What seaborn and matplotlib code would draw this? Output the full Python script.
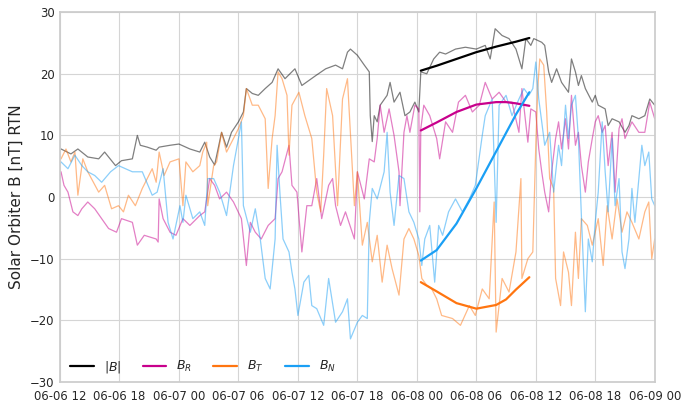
import numpy as np
import pandas as pd
import matplotlib
matplotlib.use("Agg")
import matplotlib.pyplot as plt
import matplotlib.dates as mdates
import seaborn as sns

# ---------------- data (hours after 2022-06-06 12:00, values in nT) ----------------
t_B = [0.1, 1.1, 1.8, 2.8, 3.9, 4.5, 5.6, 6.2, 7.3, 7.8, 8.1, 8.8, 9.7,
       10.0, 11.1, 12.0, 13.1, 14.1, 14.6, 15.1, 15.6, 16.3, 16.8, 17.3, 18.0, 18.5, 18.8, 19.4,
       20.0, 20.7, 21.4, 22.0, 22.7, 23.7, 24.4, 25.1, 25.8, 26.8, 27.8, 28.5, 29.0,
       29.3, 30.0, 30.7, 31.2, 31.3, 31.5, 31.7, 32.0, 32.3, 33.0, 33.3, 33.7, 34.3, 34.8, 35.3, 35.8,
       36.2, 36.4, 37.0, 37.7, 38.3,
       38.9, 39.9, 40.9, 42.0, 42.9, 43.4, 43.9, 44.6, 45.3, 46.0, 46.6, 47.0, 47.5, 47.8,
       48.6, 48.9, 49.3, 49.6, 50.1, 50.6, 51.3, 51.6, 52.0, 52.3, 52.6, 53.0, 53.7, 54.0, 54.3,
       55.0, 55.3, 55.7, 56.4, 57.0, 57.4, 57.7, 58.4, 59.0, 59.5, 60.0]
v_B = [7.8, 7.0, 7.8, 6.5, 6.2, 7.3, 5.1, 5.9, 6.2, 10.0, 8.4, 8.1, 7.6,
       8.1, 8.4, 8.6, 7.8, 7.3, 8.9, 6.5, 5.2, 10.5, 8.1, 10.5, 12.2, 13.8, 17.6, 16.8,
       16.5, 17.6, 18.6, 20.8, 19.2, 20.8, 18.1, 18.9, 19.7, 20.8, 21.4, 20.8, 23.5,
       24.0, 23.0, 21.4, 20.3, 13.2, 9.0, 13.2, 12.2, 14.9, 16.5, 18.6, 15.4, 17.0, 13.2, 13.8, 15.4,
       13.8, 20.3, 20.0, 22.4, 23.5,
       23.2, 24.0, 24.3, 24.0, 24.6, 22.4, 27.3, 26.2, 25.7, 24.0, 20.8, 25.7, 24.6, 25.7,
       25.1, 24.6, 20.3, 18.6, 20.8, 18.6, 17.0, 22.4, 20.3, 18.1, 19.7, 17.6, 15.4, 16.5, 14.9,
       14.3, 11.6, 12.7, 12.2, 10.5, 11.6, 13.2, 12.7, 13.2, 15.9, 14.9]

t_BR = [0.1, 0.4, 0.8, 1.3, 1.8, 2.2, 2.8, 3.5, 4.2, 4.9, 5.7, 6.2, 7.3, 7.8, 8.5, 9.7,
        9.9, 10.0, 10.4, 11.1, 11.7, 12.4, 13.1, 14.1, 14.6, 15.1, 15.6, 16.1, 16.8, 17.5, 18.3, 18.8, 19.2,
        19.7, 20.3, 21.0, 21.7, 22.0, 22.4, 23.1, 23.4, 23.9, 24.4, 24.9, 25.4, 25.9, 26.4, 27.1, 27.5,
        27.8, 28.3, 28.8,
        29.7, 30.0, 30.7, 31.2, 31.7, 32.0, 32.3, 32.7, 33.2, 33.7, 34.2, 34.3, 34.7, 35.0, 35.3, 35.8,
        36.2, 36.3, 36.4, 36.7, 37.3, 38.0, 38.3,
        38.9, 39.6, 40.2, 40.9, 41.6, 42.3, 42.9, 43.6, 44.3, 45.0, 45.6, 46.3, 46.6, 47.2, 47.5, 48.0,
        48.3, 48.6, 48.9, 49.3, 49.6, 50.0, 50.3, 50.6, 51.0, 51.3, 51.6, 52.0, 52.3, 52.6, 53.0, 53.3,
        53.7, 54.0, 54.3, 54.7, 55.0, 55.3, 55.7, 56.0, 56.4, 56.7, 57.0, 57.7, 58.4, 59.0, 59.5, 60.0]
v_BR = [4.1, 1.9, 0.8, -2.4, -3.0, -1.9, -0.8, -1.9, -3.5, -5.1, -5.7, -3.5, -4.1, -7.8, -6.2, -6.8,
        -7.3, -0.3, -3.5, -5.7, -6.2, -3.5, -4.6, -3.0, -2.4, 3.0, 1.9, -0.3, 0.8, -0.8, -3.5, -11.1, -4.1,
        -5.7, -6.8, -4.6, -3.5, 3.0, 4.1, 8.4, 1.9, 0.8, -8.9, -1.4, -1.4, 3.0, -3.5, 1.9, 3.0,
        -1.4, -4.6, -2.4,
        -6.8, 4.1, -0.3, 6.2, 5.7, 9.5, 14.9, 10.5, 14.3, 10.0, 4.1, -1.4, 10.5, 13.2, 10.5, 14.9,
        14.3, -2.4, 11.1, 14.9, 13.2, 9.5, 6.2,
        12.2, 10.5, 15.4, 16.5, 13.8, 14.9, 18.6, 15.9, 17.0, 15.4, 15.4, 10.5, 17.6, 8.9, 14.3, 13.8,
        7.8, 4.1, 0.8, -2.4, 4.1, 9.5, 12.2, 7.8, 12.7, 7.8, 16.5, 8.4, 10.5, 5.1, 0.8, 5.7,
        9.5, 12.2, 13.2, 10.5, 11.6, 5.1, 10.5, 0.8, 11.1, 12.7, 9.5, 12.2, 10.5, 10.5, 15.4, 12.7]

t_BT = [0.1, 0.6, 1.1, 1.5, 1.8, 2.3, 2.8, 3.9, 4.5, 5.2, 5.9, 6.4, 6.9, 7.6, 8.3, 9.3, 9.7,
        10.0, 10.5, 11.1, 12.0, 12.4, 12.7, 13.4, 14.1, 14.4, 14.8, 14.9, 15.5, 15.8, 16.3, 16.8, 17.5,
        18.0, 18.5, 18.8, 19.4,
        20.0, 20.7, 21.0, 21.4, 21.7, 22.0, 22.4, 22.9, 23.1, 23.4, 24.1, 24.7, 25.4, 25.9, 26.3, 26.6,
        26.9, 27.5, 28.0, 28.5, 29.0,
        29.2, 29.7, 30.0, 30.5, 31.0, 31.5, 32.0, 32.5, 33.0, 33.5, 34.2, 34.7, 35.2, 35.7, 36.2, 36.5,
        37.0, 37.5, 38.0, 38.5,
        39.6, 40.4, 41.3, 41.9, 42.6, 43.3, 43.8, 44.0, 44.6, 45.3, 46.0, 46.5, 46.6, 47.2, 47.7, 48.0, 48.2,
        48.4, 48.8, 49.1, 49.4, 49.8, 50.0, 50.5, 50.8, 51.3, 51.6, 52.0, 52.3, 52.6, 53.2, 53.7, 54.3,
        54.8, 55.2, 55.7, 56.2, 56.7, 57.2, 57.7, 58.4, 59.0, 59.4, 59.7, 60.0]
v_BT = [6.2, 7.8, 5.7, 7.3, 0.3, 6.2, 4.1, 0.8, 1.9, -1.9, -1.4, -2.4, 0.3, -1.4, 1.4, 4.6, 2.4,
        7.3, 3.5, 5.7, 6.2, -1.4, 5.7, 4.1, 5.1, 7.3, 8.9, -1.4, 5.1, 5.7, 10.5, 7.3, 9.5,
        11.1, 13.2, 17.6, 14.9,
        14.9, 12.7, 1.4, 9.5, 13.2, 20.3, 19.2, 16.5, 6.8, 14.9, 17.0, 13.2, 9.5, 0.8, -2.4, 6.8,
        17.6, 13.2, -1.4, 15.9, 19.2,
        13.2, -1.4, 4.1, -7.8, -4.1, -10.5, -6.2, -13.8, -7.8, -11.6, -15.9, -6.8, -5.1, -6.8, -9.5, -13.2,
        -14.3, -14.9, -16.5, -19.2,
        -19.7, -20.8, -17.6, -19.2, -14.9, -16.5, -0.8, -21.9, -13.2, -15.4, -8.9, 3.0, -13.2, -10.0, -8.9, 8.4, 17.6,
        22.4, 21.4, 13.8, 3.0, 1.4, -13.2, -17.6, -8.9, -12.2, -17.6, -5.7, -13.2, -3.5, -4.6, -7.8, -3.5,
        -11.1, -1.4, -6.8, -0.3, -5.7, -2.4, -4.1, -6.8, -2.4, -0.8, -10.0, -6.8]

t_BN = [0.1, 0.8, 1.5, 2.2, 2.8, 3.5, 4.2, 5.1, 5.9, 6.6, 7.3, 8.3, 9.3, 9.8,
        10.4, 10.9, 11.4, 12.1, 12.4, 12.7, 13.4, 14.1, 14.6, 14.9, 15.5, 16.1, 16.8, 17.5, 18.0, 18.3,
        18.5, 19.2,
        19.7, 20.2, 20.7, 21.2, 21.7, 21.9, 22.2, 22.5, 23.1, 23.4, 23.7, 24.0, 24.6, 25.1, 25.4, 25.9,
        26.6, 27.1, 27.8, 28.5, 29.0,
        29.3, 30.0, 30.5, 31.0, 31.2, 31.5, 32.0, 32.7, 33.0, 33.3, 33.7, 34.2, 34.7, 35.2, 35.7, 36.2,
        36.5, 36.8, 37.3, 37.8, 38.2,
        38.6, 39.2, 39.9, 40.6, 41.3, 41.9, 42.6, 42.9, 43.6, 44.0, 44.3, 45.0, 45.6, 46.3, 46.8, 47.3,
        47.7, 48.0,
        48.3, 48.6, 48.9, 49.4, 49.8, 50.3, 50.6, 51.0, 51.3, 51.6, 52.0, 52.3, 52.6, 53.0, 53.3, 53.7,
        54.0, 54.3, 54.7, 55.0, 55.3, 55.7, 56.0, 56.4, 56.7, 57.0, 57.4, 57.7, 58.0, 58.4, 58.7, 59.0,
        59.4, 59.7, 60.0]
v_BN = [5.7, 4.6, 6.8, 5.1, 4.1, 3.5, 2.4, 4.1, 5.1, 4.6, 4.1, 4.1, 0.3, 0.8,
        4.6, -4.1, -6.8, -1.4, -4.1, 0.3, -3.5, -2.4, -4.6, 3.0, 3.0, 0.8, -3.0, 5.1, 9.5, 12.2,
        -1.4, -5.7,
        -1.9, -6.8, -13.2, -14.9, -6.8, 8.4, 0.3, -6.8, -8.9, -12.2, -14.9, -19.2, -13.8, -12.7, -17.6, -18.1,
        -20.8, -13.2, -20.3, -18.6, -16.5,
        -23.0, -20.3, -19.2, -19.7, -4.1, 1.4, -0.3, 4.1, 10.5, 0.8, -4.6, 3.5, 3.0, -2.4, -4.1, -6.8,
        -11.1, -6.8, -4.6, -13.8, -4.6,
        -6.2, -2.4, -0.3, -2.4, -0.3, 1.9, 10.0, 13.2, 15.9, -4.1, 14.9, 16.5, 13.2, 15.9, 17.6, 16.5,
        17.6, 21.9,
        15.9, 12.2, 8.4, 10.5, 0.8, 8.4, 5.1, 14.9, 9.5, 14.9, 16.5, 9.5, -3.0, -18.6, -6.8, -10.5,
        -4.1, 0.8, 12.2, 4.1, -2.4, 9.5, -1.4, 3.0, -8.9, -11.6, -6.8, 1.4, -4.1, 3.0, 8.4, 5.1,
        7.3, -0.3, -1.4]

# smooth fitted curves (same hour axis)
t_fit = [36.4, 38.0, 40.0, 42.0, 44.0, 45.0, 46.0, 47.35]
fit_B = [20.5, 21.3, 22.4, 23.5, 24.4, 24.8, 25.2, 25.8]
fit_BR = [10.8, 12.1, 13.8, 15.0, 15.4, 15.4, 15.2, 14.8]
fit_BT = [-13.8, -15.3, -17.2, -18.1, -17.5, -16.6, -15.0, -13.0]
fit_BN = [-10.3, -8.6, -4.3, 1.4, 7.4, 10.4, 13.4, 17.0]

labels = ["$|B|$", "$B_R$", "$B_T$", "$B_N$"]
colors = ["#000000", "#c8008c", "#ff7510", "#1a9ff5"]
xtick_hours = list(range(0, 61, 6))

# ---------------- plotting ----------------
sns.set_theme(style="whitegrid")
plt.rcParams['font.family'] = ['DejaVu Sans']
t0 = pd.Timestamp("2022-06-06 12:00")

def to_time(h):
    return t0 + pd.to_timedelta(np.asarray(h, dtype=float), unit="h")

fig, ax = plt.subplots(figsize=(6.98, 4.03), dpi=100)
fig.subplots_adjust(left=0.086, right=0.938, top=0.970, bottom=0.052)

raw = [(t_B, v_B), (t_BR, v_BR), (t_BT, v_BT), (t_BN, v_BN)]
fits = [fit_B, fit_BR, fit_BT, fit_BN]

for (tt, vv), c in zip(raw, colors):
    df = pd.DataFrame({"time": to_time(tt), "val": vv})
    n0 = len(ax.lines)
    sns.lineplot(data=df, x="time", y="val", ax=ax, color=c,
                 linewidth=0.9, sort=False, estimator=None, legend=False)
    for ln in ax.lines[n0:]:
        ln.set_alpha(0.5)

for f, c, lab in zip(fits, colors, labels):
    df = pd.DataFrame({"time": to_time(t_fit), "val": f})
    sns.lineplot(data=df, x="time", y="val", ax=ax, color=c, linewidth=1.6,
                 sort=False, estimator=None, label=lab)

ax.set_xlim(to_time([0])[0], to_time([60])[0])
ax.set_ylim(-30, 30)
ax.set_yticks(range(-30, 31, 10))
ax.set_xticks(to_time(xtick_hours))
ax.xaxis.set_major_formatter(mdates.DateFormatter("%m-%d %H"))
ax.tick_params(axis="x", labelsize=8.4, length=0, pad=6)
ax.tick_params(axis="y", labelsize=8.4, length=0, pad=4)
ax.set_xlabel("")
ax.set_ylabel("Solar Orbiter B [nT] RTN", fontsize=11)
for s in ax.spines.values():
    s.set_color("#cccccc")
ax.grid(color="#d5d5d5", linewidth=0.8)

ax.legend(loc="lower left", ncol=4, frameon=False, fontsize=9,
          handlelength=1.9, columnspacing=1.7, borderaxespad=0.6,
          bbox_to_anchor=(-0.004, -0.014))

fig.savefig("out.png", dpi=100)
